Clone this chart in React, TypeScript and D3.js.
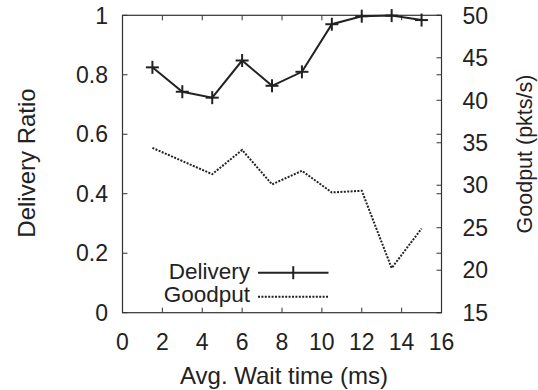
import React, { useEffect, useRef } from "react";
import * as d3 from "d3";

const waitTime = [1.5, 3, 4.5, 6, 7.5, 9, 10.5, 12, 13.5, 15];
const deliveryRatio = [0.825, 0.743, 0.723, 0.848, 0.763, 0.81, 0.97, 0.997, 0.999, 0.984];
const goodput = [34.4, 32.85, 31.3, 34.15, 30.1, 31.7, 29.15, 29.35, 20.25, 24.9];
const xTicks = [0, 2, 4, 6, 8, 10, 12, 14, 16];
const yTicks = [0, 0.2, 0.4, 0.6, 0.8, 1];
const y2Ticks = [15, 20, 25, 30, 35, 40, 45, 50];

const W = 538;
const H = 390;
const M = { left: 122.5, right: 441.5, top: 15.3, bottom: 312.7 };
const FONT = "'Liberation Sans', Arial, Helvetica, sans-serif";
const INK = "#222";
const TICK_FS = 23;
const TITLE_FS = 24;
const Y2_TITLE_FS = 21.5;
const LEGEND_FS = 22.5;

export default function App() {
  const ref = useRef<SVGSVGElement | null>(null);

  useEffect(() => {
    const svg = d3.select(ref.current);
    svg.selectAll("*").remove();

    const x = d3.scaleLinear().domain([0, 16]).range([M.left, M.right]);
    const y = d3.scaleLinear().domain([0, 1]).range([M.bottom, M.top]);
    const y2 = d3.scaleLinear().domain([15, 50]).range([M.bottom, M.top]);
    const tick = 5;

    const g = svg.append("g");

    // tick marks (inward, mirrored on opposite borders)
    const ticks = g.append("g").attr("stroke", "#333").attr("stroke-width", 1);
    xTicks.forEach((t) => {
      ticks.append("line").attr("x1", x(t)).attr("x2", x(t)).attr("y1", M.bottom).attr("y2", M.bottom - tick);
      ticks.append("line").attr("x1", x(t)).attr("x2", x(t)).attr("y1", M.top).attr("y2", M.top + tick);
    });
    yTicks.forEach((t) => {
      ticks.append("line").attr("x1", M.left).attr("x2", M.left + tick).attr("y1", y(t)).attr("y2", y(t));
      ticks.append("line").attr("x1", M.right).attr("x2", M.right - tick).attr("y1", y(t)).attr("y2", y(t));
    });
    y2Ticks.forEach((t) => {
      ticks.append("line").attr("x1", M.right).attr("x2", M.right - tick).attr("y1", y2(t)).attr("y2", y2(t));
    });

    // border
    g.append("rect")
      .attr("x", M.left).attr("y", M.top)
      .attr("width", M.right - M.left).attr("height", M.bottom - M.top)
      .attr("fill", "none").attr("stroke", "#333").attr("stroke-width", 1.2);

    // tick labels
    const labels = g.append("g").attr("font-family", FONT).attr("font-size", TICK_FS).attr("fill", INK);
    const mid = TICK_FS * 0.358;
    xTicks.forEach((t) => {
      labels.append("text").attr("x", x(t)).attr("y", 349.5).attr("text-anchor", "middle").text(String(t));
    });
    yTicks.forEach((t) => {
      labels.append("text").attr("x", 108).attr("y", y(t) + mid).attr("text-anchor", "end").text(String(t));
    });
    y2Ticks.forEach((t) => {
      labels.append("text").attr("x", 462.5).attr("y", y2(t) + mid).attr("text-anchor", "start").text(String(t));
    });

    // axis titles
    const titles = g.append("g").attr("font-family", FONT).attr("font-size", TITLE_FS).attr("fill", INK);
    titles.append("text").attr("x", 284).attr("y", 384).attr("text-anchor", "middle").text("Avg. Wait time (ms)");
    titles.append("text")
      .attr("transform", `translate(35,163) rotate(-90)`)
      .attr("text-anchor", "middle").text("Delivery Ratio");
    titles.append("text")
      .attr("transform", `translate(532,154) rotate(-90)`)
      .attr("font-size", Y2_TITLE_FS)
      .attr("text-anchor", "middle").text("Goodput (pkts/s)");

    // goodput series (right axis)
    const lineG = d3.line<number>().x((_, i) => x(waitTime[i])).y((d) => y2(d));
    g.append("path")
      .attr("d", lineG(goodput))
      .attr("fill", "none").attr("stroke", "#222").attr("stroke-width", 2)
      .attr("stroke-dasharray", "2,1.4");

    // delivery series (left axis)
    const lineD = d3.line<number>().x((_, i) => x(waitTime[i])).y((d) => y(d));
    g.append("path")
      .attr("d", lineD(deliveryRatio))
      .attr("fill", "none").attr("stroke", "#222").attr("stroke-width", 2);
    const ms = 6.5;
    const marks = g.append("g").attr("stroke", "#222").attr("stroke-width", 2);
    deliveryRatio.forEach((d, i) => {
      const cx = x(waitTime[i]);
      const cy = y(d);
      marks.append("line").attr("x1", cx - ms).attr("x2", cx + ms).attr("y1", cy).attr("y2", cy);
      marks.append("line").attr("x1", cx).attr("x2", cx).attr("y1", cy - ms).attr("y2", cy + ms);
    });

    // legend
    const leg = g.append("g").attr("font-family", FONT).attr("font-size", LEGEND_FS).attr("fill", INK);
    leg.append("text").attr("x", 250).attr("y", 279).attr("text-anchor", "end").text("Delivery");
    leg.append("text").attr("x", 250).attr("y", 302).attr("text-anchor", "end").text("Goodput");
    const lx1 = 258, lx2 = 328.5;
    leg.append("line").attr("x1", lx1).attr("x2", lx2).attr("y1", 272.7).attr("y2", 272.7)
      .attr("stroke", "#222").attr("stroke-width", 2);
    const lc = (lx1 + lx2) / 2;
    leg.append("line").attr("x1", lc).attr("x2", lc).attr("y1", 272.7 - ms).attr("y2", 272.7 + ms)
      .attr("stroke", "#222").attr("stroke-width", 2);
    leg.append("line").attr("x1", lx1).attr("x2", lx2).attr("y1", 296.7).attr("y2", 296.7)
      .attr("stroke", "#222").attr("stroke-width", 2).attr("stroke-dasharray", "2,1.4");
  }, []);

  return (
    <svg
      ref={ref}
      width={W}
      height={H}
      style={{ position: "absolute", left: 0, top: 0, background: "#fff" }}
    />
  );
}
